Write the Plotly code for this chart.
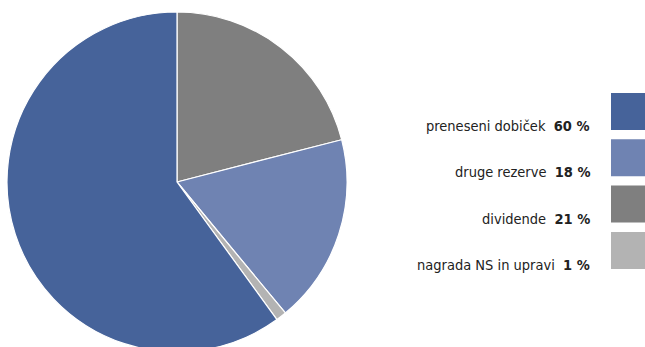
import plotly.graph_objects as go

# Distribution of profit (legend order)
labels = ["preneseni dobiček", "druge rezerve", "dividende", "nagrada NS in upravi"]
values = [60, 18, 21, 1]
colors = ["#46639a", "#6f83b2", "#7f7f7f", "#b3b3b3"]

# Clockwise order of slices starting at 12 o'clock
slice_order = [2, 1, 3, 0]

W, H = 645, 352

fig = go.Figure()
fig.add_trace(go.Pie(
    labels=[labels[i] for i in slice_order],
    values=[values[i] for i in slice_order],
    marker=dict(colors=[colors[i] for i in slice_order],
                line=dict(color="white", width=1.2)),
    sort=False,
    direction="clockwise",
    rotation=0,
    textinfo="none",
    hoverinfo="label+percent",
    showlegend=False,
    domain=dict(x=[7 / W, 347 / W], y=[0, 340 / H]),
))

# Custom legend: right-aligned labels with swatches on the right
font_family = "Liberation Sans Narrow, DejaVu Sans Condensed, Arial Narrow, sans-serif"
box_top0, box_h, box_step = 93, 37, 46.3
for k, (lab, val, col) in enumerate(zip(labels, values, colors)):
    top = box_top0 + k * box_step
    fig.add_shape(type="rect", xref="paper", yref="paper",
                  x0=611 / W, x1=1.02, y0=1 - (top + box_h) / H, y1=1 - top / H,
                  fillcolor=col, line=dict(width=0), layer="above")
    fig.add_annotation(xref="paper", yref="paper", x=592 / W, y=1 - (top + 33) / H,
                       xanchor="right", yanchor="middle", showarrow=False,
                       text=f"{lab}  <b>{val} %</b>",
                       font=dict(family=font_family, size=14.5, color="#222222"))

fig.update_layout(
    width=W, height=H,
    margin=dict(l=0, r=0, t=0, b=0),
    paper_bgcolor="white", plot_bgcolor="white",
)

fig.write_html("out.html", post_script=(
    "document.documentElement.style.overflow='hidden';"
    "document.body.style.overflow='hidden';document.body.style.margin='0';"
))
